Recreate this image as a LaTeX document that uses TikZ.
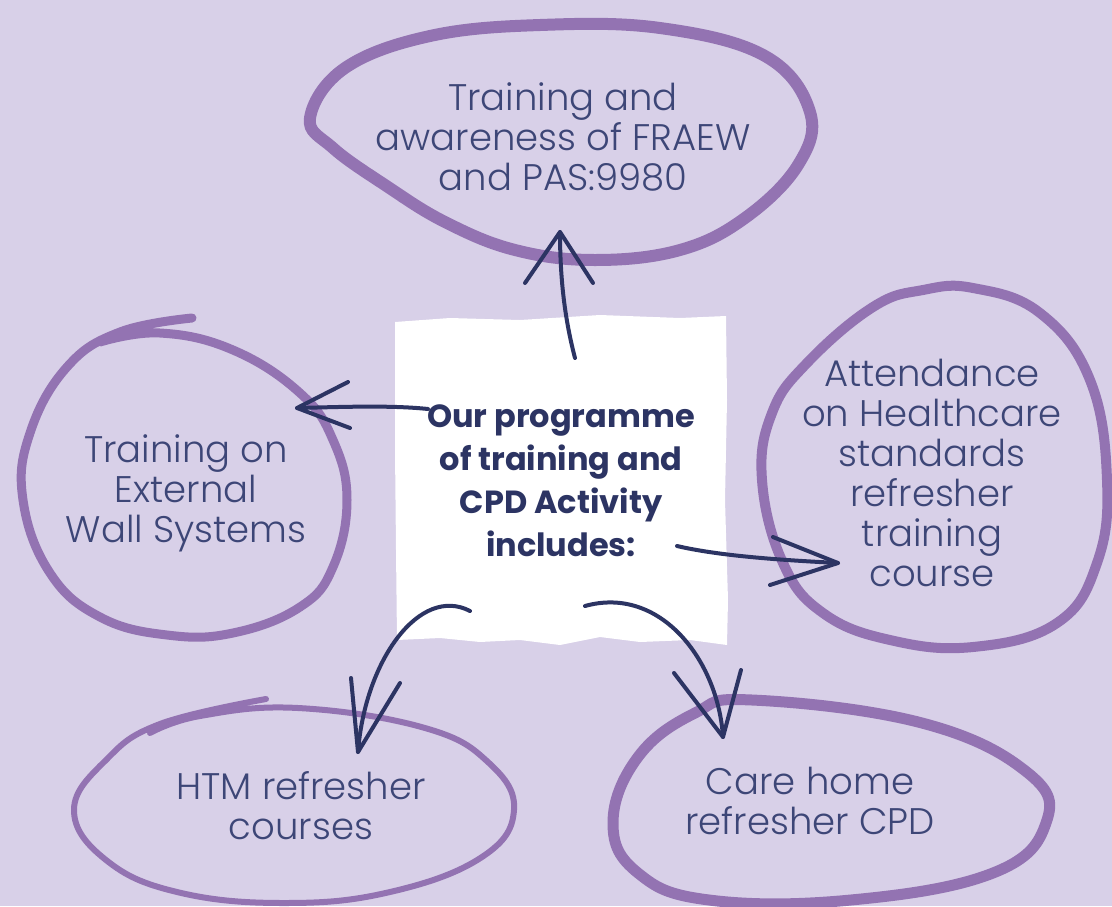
\documentclass[tikz,border=0pt]{standalone}
\usepackage{fontspec}
\setmainfont{Poppins}
\IfFontExistsTF{Poppins Light}{\newfontfamily\ringfont{Poppins Light}}{\newfontfamily\ringfont{Poppins}}
\usepackage{tikz}
\definecolor{lilac}{HTML}{D8D0E8}
\definecolor{ringviolet}{HTML}{9373B2}
\definecolor{navy}{HTML}{2C3463}
\definecolor{ink}{HTML}{3D4677}

\begin{document}
\begin{tikzpicture}[x=1pt,y=-1pt,
  ring/.style={draw=ringviolet, line cap=round, line join=round},
  ringtext/.style={font=\ringfont\fontsize{37}{40}\selectfont, text=ink, align=center},
  prog/.style={font=\bfseries\fontsize{32}{43}\selectfont, text=navy, align=center},
  hand/.style={draw=navy, line width=4pt, line cap=round, line join=round}]
\fill[lilac] (0,0) rectangle (1112,906);
\useasboundingbox (0,0) rectangle (1112,906);

% the rough white card in the middle
\fill[white] plot coordinates {(395,322) (450,318) (520,320) (600,315) (680,318) (726,316)
  (727,400) (725,500) (728,600) (727,645) (690,640) (640,642) (600,637) (560,645)
  (520,640) (480,642) (440,638) (397,640) (396,550) (395,450)} -- cycle;

% hand drawn rings
\draw[ring, line width=12pt] plot[smooth cycle, tension=0.65] coordinates {(310,118) (345,68)
  (430,36) (540,25) (660,28) (765,56) (810,112) (798,165) (745,218) (680,250) (595,260)
  (515,250) (445,222) (385,185) (333,148)};
\draw[ring, line width=9pt] plot[smooth, tension=0.7] coordinates {(192,318) (120,332) (67,367)
  (30,433) (23,500) (50,573) (100,617) (167,635) (233,633) (300,607) (333,567) (347,500)
  (333,440) (300,393) (233,350) (160,333) (100,342)};
\draw[ring, line width=10pt] plot[smooth cycle, tension=0.7] coordinates {(973,288) (1040,313)
  (1090,380) (1107,480) (1097,563) (1057,623) (973,647) (890,640) (823,613) (783,563)
  (762,480) (772,413) (807,363) (873,307) (923,290)};
\draw[ring, line width=6pt] plot[smooth, tension=0.7] coordinates {(266,699) (160,724) (106,760)
  (74,810) (106,860) (177,892) (284,903) (390,892) (482,857) (514,810) (489,763) (425,728)
  (298,708) (200,716) (150,733)};
\draw[ring, line width=11pt] plot[smooth cycle, tension=0.7] coordinates {(752,700) (922,723)
  (1028,773) (1046,823) (993,873) (851,900) (709,900) (638,873) (613,823) (638,757) (695,713)};

\node[prog] (prog) at (561,481) {Our programme\\of training and\\CPD Activity\\includes:};
\node[ringtext] (fraew) at (563,137) {Training and\\awareness of FRAEW\\and PAS:9980};
\node[ringtext] (ews) at (186,493) {Training on\\External\\Wall Systems};
\node[ringtext] (hcs) at (932,473) {Attendance\\on Healthcare\\standards\\refresher\\training\\course};
\node[ringtext] (htm) at (301,806) {HTM refresher\\courses};
\node[ringtext] (care) at (810,801) {Care home\\refresher CPD};

% arrow ends
\coordinate (upS) at (575,358);   \coordinate (upT) at (560,232);
\coordinate (leftS) at (428,409); \coordinate (leftT) at (297,408);
\coordinate (rightS) at (677,546); \coordinate (rightT) at (838,563);
\coordinate (blS) at (470,611);   \coordinate (blT) at (358,752);
\coordinate (brS) at (585,606);   \coordinate (brT) at (723,737);

\draw[hand] (upS) .. controls (565,320) and (560,280) .. (upT);
\draw[hand] (upT) ++(-35,51) -- (upT) -- ++(33,51);
\draw[hand] (leftS) .. controls (390,405) and (340,407) .. (leftT);
\draw[hand] (leftT) ++(51,-26) -- (leftT) -- ++(53,20);
\draw[hand] (rightS) .. controls (720,556) and (780,560) .. (rightT);
\draw[hand] (rightT) ++(-65,-26) -- (rightT) -- ++(-68,22);
\draw[hand] (blS) .. controls (420,585) and (365,660) .. (blT);
\draw[hand] (blT) ++(-7,-74) -- (blT) -- ++(42,-69);
\draw[hand] (brS) .. controls (660,585) and (718,660) .. (brT);
\draw[hand] (brT) ++(-49,-64) -- (brT) -- ++(18,-67);
\end{tikzpicture}
\end{document}
